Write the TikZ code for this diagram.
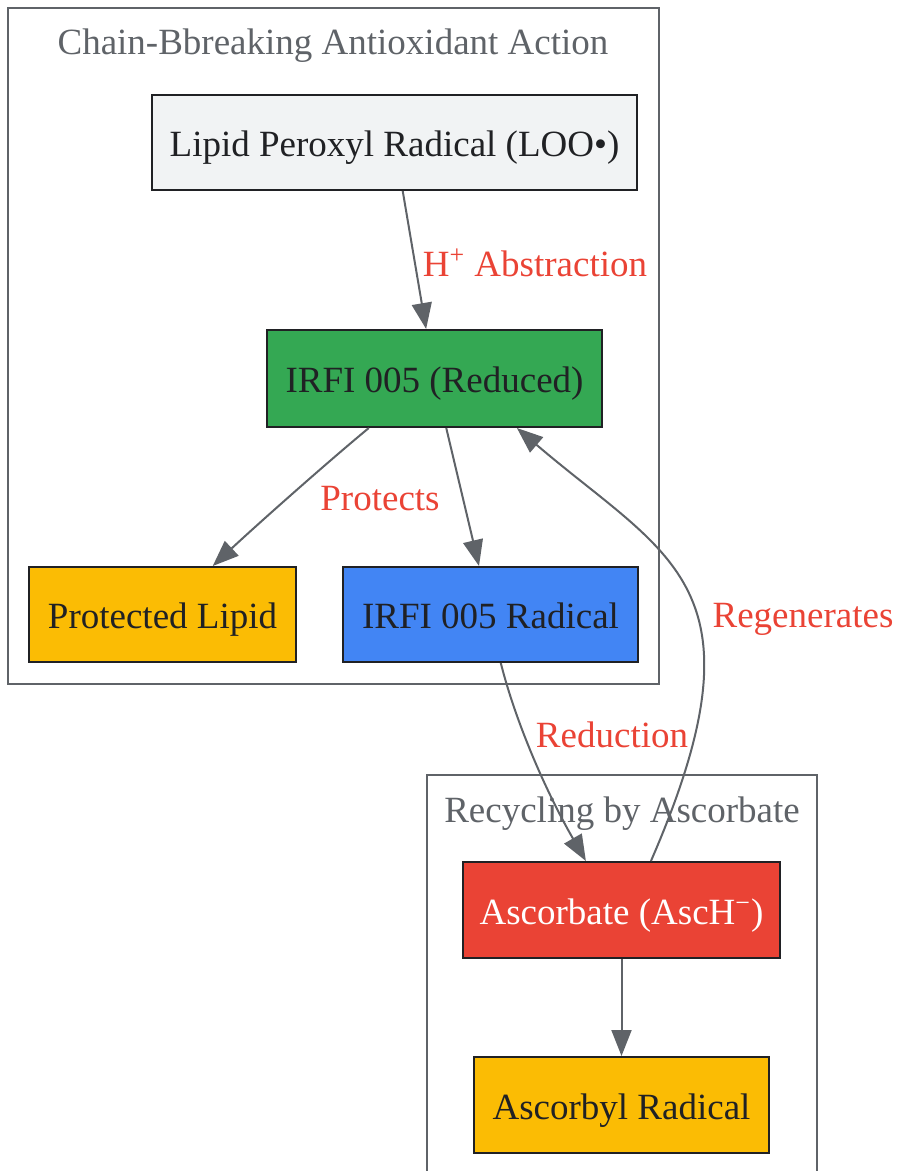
\documentclass[tikz,border=0pt]{standalone}
\usepackage{fontspec}
\setmainfont{Liberation Serif}
\usetikzlibrary{arrows.meta}
\definecolor{edgegray}{HTML}{5F6368}
\definecolor{boxline}{HTML}{202124}
\definecolor{lblred}{HTML}{EA4335}
\definecolor{paleg}{HTML}{F1F3F4}
\definecolor{leafgreen}{HTML}{34A853}
\definecolor{sunyellow}{HTML}{FBBC04}
\definecolor{skyblue}{HTML}{4285F4}
\definecolor{tomred}{HTML}{EA4335}
\begin{document}
\begin{tikzpicture}[x=0.5pt,y=-0.5pt,
  box/.style={draw=boxline, line width=1pt, inner sep=0pt, minimum height=47.5pt,
    text height=14pt, text depth=0pt, text=boxline, font=\fontsize{18.5}{22}\selectfont},
  cluster/.style={draw=edgegray, line width=1pt},
  ttl/.style={text=edgegray, inner sep=0pt, font=\fontsize{18.5}{22}\selectfont},
  lbl/.style={text=lblred, inner sep=0pt, font=\fontsize{18.5}{22}\selectfont},
  edge/.style={draw=edgegray, line width=1pt, -{Triangle[length=13pt,width=10pt]}}]
\useasboundingbox (0,0) rectangle (896,1171);
% the two groups
\draw[cluster] (8,8) rectangle (659,684);
\draw[cluster] (427,775) rectangle (817,1190);
\node[ttl] (ttlchain) at (333,46) {Chain-Bbreaking Antioxidant Action};
\node[ttl] (ttlrecyc) at (622,814) {Recycling by Ascorbate};
% boxes
\node[box, fill=paleg, minimum width=242.5pt] (loo) at (394.5,142.5) {Lipid Peroxyl Radical (LOO•)};
\node[box, fill=leafgreen, minimum width=167.5pt, minimum height=48.5pt] (irfi) at (434.5,378.5) {IRFI 005 (Reduced)};
\node[box, fill=sunyellow, minimum width=133.5pt] (prot) at (162.5,614.5) {Protected Lipid};
\node[box, fill=skyblue, minimum width=147.5pt] (rad) at (490.5,614.5) {IRFI 005 Radical};
\node[box, fill=tomred, text=white, minimum width=158.5pt, minimum height=48pt] (asc) at (621.5,910) {Ascorbate (AscH\textsuperscript{−})};
\node[box, fill=sunyellow, minimum width=147.5pt, minimum height=48pt] (ascyl) at (621.5,1105) {Ascorbyl Radical};
% connectors
\draw[edge] (loo) -- (irfi);
\draw[edge] (irfi.-143) .. controls (330,460) and (260,522) .. (prot.44);
\draw[edge] (irfi) -- (rad);
\draw[edge] (rad.-78) .. controls (515,720) and (545,790) .. (asc.126);
\draw[edge] (asc.59) .. controls +(120,-276) and +(152,130) .. (irfi.-31);
\draw[edge] (asc) -- (ascyl);
% edge labels
\node[lbl] (lblabs) at (535,263) {H\textsuperscript{+} Abstraction};
\node[lbl] (lblprot) at (380,499) {Protects};
\node[lbl] (lblred) at (612,735) {Reduction};
\node[lbl] (lblregen) at (803,619) {Regenerates};
\end{tikzpicture}
\end{document}
